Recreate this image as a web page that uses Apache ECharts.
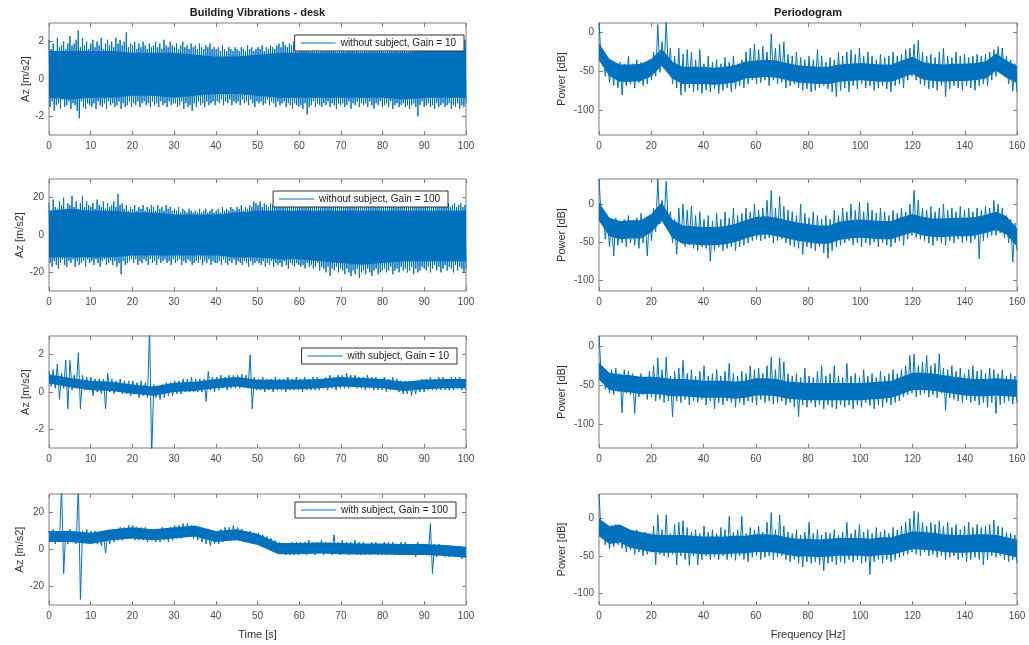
<!DOCTYPE html>
<html><head><meta charset="utf-8">
<script src="https://cdn.jsdelivr.net/npm/echarts@6/dist/echarts.min.js"></script>
<style>html,body{margin:0;padding:0;background:#fff}#c{width:1029px;height:645px}</style>
</head><body><div id="c"></div>
<script>
// ---------------- data ----------------
const TIME_MAX = 100, FREQ_MAX = 160;
const titleLeft = 'Building Vibrations - desk';
const titleRight = 'Periodogram';
const yNameAccel = 'Az [m/s2]';
const yNamePower = 'Power [dB]';
const xNameTime = 'Time [s]';
const xNameFreq = 'Frequency [Hz]';
const legendNames = ['without subject, Gain = 10', 'without subject, Gain = 100', 'with subject, Gain = 10', 'with subject, Gain = 100'];
const ticksAccLow = [-2, 0, 2];
const ticksAccHigh = [-20, 0, 20];
const ticksPower = [-100, -50, 0];

// time signals (alternating local maxima / minima)
const accel1 = [
2.1,-1.5,1.6,-1.2,1.9,-1.7,1.5,-1.4,2.2,-1.3,1.7,-1.6,1.8,-1.1,2.0,-1.5,1.6,-1.4,1.9,-1.2,
2.3,-1.6,1.8,-1.3,1.9,-1.4,2.1,-1.7,2.6,-2.1,1.7,-1.2,2.2,-1.5,1.8,-1.6,2.0,-1.3,1.6,-1.4,
1.9,-1.5,2.1,-1.3,1.7,-1.6,2.0,-1.2,1.8,-1.4,2.2,-1.5,1.6,-1.3,1.9,-1.6,2.1,-1.2,1.8,-1.4,
2.0,-1.3,1.7,-1.5,2.2,-1.4,1.9,-1.2,2.1,-1.6,1.8,-1.3,2.0,-1.5,2.5,-1.4,1.7,-1.2,1.9,-1.5,
1.8,-1.3,2.0,-1.4,1.6,-1.2,1.9,-1.5,1.7,-1.3,2.0,-1.2,1.8,-1.4,1.6,-1.3,1.9,-1.5,1.7,-1.2,
1.8,-1.4,2.0,-1.3,1.7,-1.5,1.9,-1.2,1.6,-1.4,2.1,-1.3,1.8,-1.5,1.7,-1.2,2.0,-1.4,1.8,-1.3,
1.7,-1.3,1.9,-1.5,1.6,-1.4,1.8,-1.2,2.0,-1.6,1.7,-1.3,1.8,-1.5,1.6,-1.4,1.9,-1.7,1.7,-1.3,
1.8,-1.5,1.6,-1.2,1.9,-1.4,1.7,-1.3,1.6,-1.5,1.8,-1.2,1.7,-1.4,1.9,-1.3,1.6,-1.2,1.7,-1.4,
1.6,-1.2,1.7,-1.3,1.5,-1.1,1.8,-1.4,1.6,-1.2,1.5,-1.3,1.7,-1.1,1.6,-1.4,1.5,-1.2,1.7,-1.3,
1.6,-1.2,1.5,-1.4,1.7,-1.1,1.6,-1.3,1.5,-1.2,1.8,-1.4,1.6,-1.1,1.7,-1.3,1.5,-1.5,1.6,-1.2,
1.7,-1.3,1.6,-1.2,1.8,-1.4,1.5,-1.3,1.7,-1.1,1.6,-1.4,1.8,-1.2,1.7,-1.3,1.6,-1.5,1.8,-1.2,
1.9,-1.4,1.7,-1.3,2.0,-1.2,1.8,-1.5,1.7,-1.3,1.9,-1.4,1.8,-1.6,2.0,-1.3,1.7,-1.4,1.9,-1.5,
1.8,-1.4,2.0,-1.6,1.7,-1.3,1.9,-1.9,1.8,-1.5,1.7,-1.4,2.0,-1.2,1.8,-1.5,1.9,-1.3,1.7,-1.4,
1.8,-1.5,1.9,-1.3,1.7,-1.4,2.0,-1.2,1.8,-1.5,1.7,-1.3,1.9,-1.4,1.8,-1.6,1.7,-1.3,1.9,-1.4,
1.8,-1.3,1.7,-1.5,1.9,-1.4,1.8,-1.2,1.7,-1.6,2.0,-1.3,1.8,-1.4,1.7,-1.2,1.9,-1.5,1.8,-1.3,
1.7,-1.4,1.9,-1.3,1.8,-1.5,1.7,-1.2,1.9,-1.4,1.8,-1.6,1.7,-1.3,2.0,-1.4,1.8,-1.2,1.7,-1.5,
1.9,-1.4,1.8,-1.3,1.7,-1.5,1.9,-1.2,1.8,-1.6,1.7,-1.4,2.0,-1.3,1.8,-1.5,1.9,-1.4,1.7,-1.3,
1.8,-1.5,1.9,-1.4,1.7,-1.6,1.8,-1.4,2.0,-1.3,1.8,-1.5,1.9,-2.0,1.7,-1.4,2.0,-1.2,1.8,-1.5,
1.9,-1.4,2.0,-1.3,1.8,-1.5,2.1,-1.4,1.9,-1.6,2.0,-1.3,1.8,-1.5,2.1,-1.4,1.9,-1.3,2.2,-1.5,
2.0,-1.4,2.3,-1.3,2.1,-1.6,1.9,-1.4,2.4,-1.5,2.0,-1.3,2.2,-1.6,2.1,-1.4,2.3,-1.5,2.1,-1.3
];
const accel1CoreHi = [1.5,1.5,1.5,1.5,1.4,1.4,1.4,1.3,1.2,1.2,1.3,1.4,1.4,1.4,1.4,1.4,1.4,1.4,1.5,1.6,1.6];
const accel1CoreLo = [-1.0,-1.1,-1.0,-1.0,-0.9,-0.9,-1.0,-0.9,-0.8,-0.8,-0.9,-1.0,-1.0,-1.0,-1.0,-1.0,-1.0,-1.1,-1.0,-1.0,-1.0];

const accel2 = [
17,-15,13,-17,19,-14,15,-16,14,-18,18,-15,16,-13,20,-16,14,-17,17,-14,
16,-15,21,-13,15,-17,18,-14,14,-16,17,-15,21,-14,15,-17,18,-13,16,-15,
15,-14,17,-16,14,-13,19,-15,16,-17,15,-14,18,-13,14,-16,17,-15,15,-14,
16,-16,18,-14,15,-17,22,-15,16,-21,17,-14,14,-16,16,-15,13,-14,15,-13,
14,-15,16,-13,13,-16,15,-14,14,-15,16,-13,13,-14,15,-16,14,-13,16,-15,
15,-14,13,-16,16,-13,14,-15,15,-14,13,-13,16,-15,14,-14,15,-16,13,-13,
14,-15,13,-14,15,-13,12,-16,14,-14,13,-15,12,-13,14,-14,13,-16,12,-15,
13,-14,12,-15,14,-13,12,-16,13,-14,14,-15,12,-13,13,-16,14,-14,12,-15,
13,-15,14,-14,12,-16,15,-13,13,-15,14,-16,13,-14,15,-15,14,-13,13,-16,
15,-14,14,-15,16,-16,13,-14,15,-15,14,-17,16,-14,15,-16,18,-15,17,-14,
16,-15,18,-16,15,-14,17,-17,16,-15,15,-16,17,-14,16,-17,15,-15,17,-16,
16,-15,15,-17,17,-14,16,-16,15,-18,17,-15,16,-16,15,-17,17,-15,16,-16,
15,-17,17,-16,16,-18,15,-15,17,-17,16,-16,15,-18,17,-17,16,-15,15,-19,
16,-17,17,-18,15,-20,16,-17,17,-22,15,-18,16,-19,17,-17,15,-20,16,-18,
17,-19,16,-21,15,-18,17,-20,16,-22,15,-19,17,-21,16,-18,15,-23,17,-20,
16,-19,15,-21,17,-18,16,-20,15,-22,17,-19,16,-18,15,-21,17,-20,16,-19,
15,-18,17,-20,16,-19,15,-17,17,-21,16,-19,15,-18,17,-20,16,-17,15,-19,
16,-18,17,-20,15,-19,16,-17,17,-21,15,-18,16,-20,17,-19,15,-17,16,-18,
17,-19,16,-17,15,-20,17,-18,16,-16,15,-19,17,-17,16,-20,15,-18,17,-16,
16,-19,17,-17,15,-18,16,-20,17,-16,15,-19,16,-17,17,-18,15,-20,16,-18
];
const accel2CoreHi = [13,14,13,13,12,12,11,11,11,12,13,13,13,13,13,13,13,13,13,13,13];
const accel2CoreLo = [-12,-12,-12,-12,-11,-11,-11,-11,-11,-12,-12,-13,-13,-14,-15,-16,-15,-14,-14,-14,-14];

const accel3 = [
1.1,0.3,1.2,0.2,1.5,-0.4,1.0,0.2,1.7,-0.9,1.7,0.1,0.9,0.2,2.1,-0.9,0.9,0.1,0.8,0.2,
0.8,-0.2,0.7,0.0,0.7,-0.1,0.7,-0.9,1.0,0.0,0.7,-0.1,0.6,0.0,0.7,-0.1,0.6,-0.1,0.6,-0.2,
0.6,-0.1,0.5,-0.3,0.6,-0.2,0.5,-0.3,3.5,-3.5,0.4,-0.3,0.3,-0.4,0.4,-0.3,0.5,-0.2,0.5,-0.2,
0.6,-0.1,0.6,-0.1,0.7,0.0,0.7,0.0,0.8,0.0,0.7,0.0,0.7,0.0,0.7,-0.5,1.1,0.1,0.8,0.0,
0.8,0.1,0.9,0.2,0.8,0.1,0.9,0.2,0.9,0.2,0.9,0.2,0.95,0.25,0.9,0.2,2.0,-0.9,0.8,0.1,
0.7,0.1,0.8,0.0,0.7,0.1,0.7,0.0,0.8,0.1,0.7,0.1,0.7,0.0,0.8,0.1,0.7,0.1,0.8,0.1,
0.7,0.0,0.8,0.1,0.7,0.1,0.8,0.1,0.8,0.1,0.7,0.2,0.8,0.1,0.9,0.2,0.8,0.1,0.9,0.2,
0.9,0.2,1.0,0.2,0.9,0.3,0.9,0.2,0.8,0.2,0.8,0.1,0.9,0.2,0.8,0.1,0.8,0.1,0.7,0.1,
0.8,0.0,0.7,0.1,0.8,0.1,0.7,0.0,0.6,-0.1,0.6,-0.1,0.6,-0.2,0.5,-0.1,0.6,0.0,0.7,0.0,
0.7,0.1,0.8,0.1,0.7,0.1,0.8,0.1,0.8,0.1,0.7,0.1,0.8,0.1,0.8,0.2,0.8,0.1,0.7,0.1
];
const accel3CoreHi = [0.95,0.75,0.6,0.55,0.4,0.3,0.5,0.55,0.7,0.8,0.65,0.65,0.65,0.7,0.8,0.75,0.7,0.55,0.65,0.7,0.7];
const accel3CoreLo = [0.45,0.25,0.1,0.05,-0.1,-0.2,0.0,0.05,0.2,0.3,0.15,0.15,0.15,0.2,0.3,0.25,0.2,0.05,0.15,0.2,0.2];

const accel4 = [
10,4,11,3,10,4,35,-13,10,3,11,4,10,3,35,-27,10,4,11,4,
10,4,10,3,9,2,8,-2,9,3,10,4,11,5,12,5,12,6,13,6,
13,5,12,5,12,5,12,4,11,5,11,4,11,4,12,5,11,4,12,5,
13,6,13,6,14,7,14,7,13,6,12,5,11,4,10,3,9,2,9,3,
10,3,11,4,12,5,12,6,13,5,12,5,11,4,10,4,10,3,9,3,
9,2,8,1,7,0,6,-1,5,-1,4,-2,3,-3,3,-3,4,-3,4,-3,
4,-2,4,-3,5,-2,4,-3,4,-2,5,-3,4,-2,4,-3,8,-2,4,-3,
5,-2,4,-3,4,-2,5,-3,4,-3,4,-3,3,-3,4,-2,4,-3,3,-3,
4,-3,4,-2,4,-3,3,-3,4,-2,4,-3,3,-3,3,-4,4,-3,3,-3,
3,-3,14,-13,3,-4,3,-3,2,-4,2,-4,2,-4,1,-4,2,-5,1,-4
];
const accel4CoreHi = [10,10,9,11,12,11,12,13,10,11,8.5,3.5,3.5,3.8,3.5,3.3,3.3,3,3,2.5,1.5];
const accel4CoreLo = [4,4,3,5,6,5,6,7,4,5,2.5,-2.5,-2.5,-2.2,-2.5,-2.7,-2.7,-3,-3,-3.5,-4.5];

// periodograms (alternating local maxima / minima, dB)
const power1 = [
15,-36,-25,-56,-35,-64,-38,-68,-40,-71,-38,-80,-40,-68,-30,-66,-40,-71,-35,-64,
-38,-68,-40,-66,-35,-61,-25,-56,10,-51,-12,-46,15,-51,-20,-66,-30,-71,-20,-80,
-28,-76,-22,-71,-25,-76,-35,-74,-22,-78,-40,-74,-30,-76,-38,-72,-35,-78,-40,-74,
-32,-71,-38,-76,-30,-72,-40,-68,-35,-71,-25,-66,-20,-61,-15,-66,-22,-64,-18,-61,
-25,-68,-2,-61,-20,-66,-15,-64,-12,-71,-28,-68,-30,-66,-25,-71,-32,-74,-35,-72,
-30,-76,-35,-74,-22,-71,-30,-68,-38,-72,-32,-76,-35,-82,-25,-74,-30,-71,-25,-76,
-22,-68,-28,-72,-20,-66,-30,-71,-25,-68,-30,-74,-35,-71,-28,-68,-32,-72,-30,-76,
-25,-68,-30,-66,-28,-71,-22,-61,-20,-56,-15,-61,-10,-66,-25,-68,-30,-72,-28,-71,
-32,-74,-25,-68,-20,-82,-30,-72,-32,-68,-25,-71,-30,-74,-28,-68,-32,-71,-30,-74,
-28,-68,-30,-66,-28,-68,-25,-61,-22,-56,-18,-51,-20,-56,-30,-66,-35,-75,-40,-76
];
const power1CoreHi = [-14,-34,-41,-41,-40,-34,-21,-37,-44,-44,-44,-45,-44,-42,-37,-36,-35,-36,-39,-42,-43,-44,-44,-41,-40,-39,-40,-41,-41,-36,-31,-38,-40,-41,-40,-40,-39,-37,-27,-36,-43];
const power1CoreLo = [-36,-56,-63,-63,-62,-56,-43,-59,-66,-66,-66,-67,-66,-64,-59,-58,-57,-58,-61,-64,-65,-66,-66,-63,-62,-61,-62,-63,-63,-58,-53,-60,-62,-63,-62,-62,-61,-59,-49,-58,-65];

const power2 = [
33,-16,-10,-46,-20,-56,-22,-68,-18,-54,-22,-51,-20,-56,-15,-51,-22,-54,-18,-58,
-12,-51,-20,-68,-15,-48,-5,-36,33,-26,5,-21,30,-26,-10,-51,-20,-66,-5,-51,
0,-56,-8,-54,-3,-58,-15,-61,-10,-56,-20,-58,-15,-75,-22,-61,-12,-56,-20,-61,
-10,-58,-18,-56,-5,-61,-15,-56,-12,-54,-5,-51,-10,-48,0,-46,-8,-48,-5,-46,
5,-44,18,-51,-5,-48,10,-46,-3,-51,-8,-54,-10,-56,-15,-58,0,-66,-12,-56,
-18,-58,-10,-61,-15,-56,-20,-64,-15,-71,-20,-61,-8,-56,-15,-54,-5,-51,-10,-48,
0,-54,-8,-51,3,-56,-10,-51,2,-54,-8,-50,-12,-56,-5,-51,-10,-54,-15,-56,
-8,-51,-12,-48,-5,-54,-10,-46,0,-41,18,-44,5,-46,-5,-48,-8,-51,-3,-54,
-10,-48,-5,-51,0,-54,-8,-48,-5,-51,-10,-46,-3,-51,-8,-48,-5,-51,-10,-46,
-5,-72,-8,-48,-3,-44,-5,-41,5,-41,0,-38,-5,-44,-15,-51,-20,-76,-25,-61
];
const power2CoreHi = [2,-18,-22,-21,-21,-13,2,-20,-28,-29,-30,-30,-29,-26,-21,-17,-16,-18,-21,-24,-26,-28,-28,-23,-21,-20,-21,-22,-22,-17,-13,-17,-19,-19,-18,-18,-17,-14,-10,-16,-32];
const power2CoreLo = [-22,-42,-46,-45,-45,-37,-22,-44,-52,-53,-54,-54,-53,-50,-45,-41,-40,-42,-45,-48,-50,-52,-52,-47,-45,-44,-45,-46,-46,-41,-37,-41,-43,-43,-42,-42,-41,-38,-34,-40,-56];

const power3 = [
15,-35,-30,-55,-35,-60,-30,-62,-28,-58,-35,-85,-30,-60,-32,-62,-35,-86,-38,-65,
-35,-62,-40,-68,-32,-65,-25,-70,-15,-68,-30,-72,-14,-70,-38,-90,-32,-70,-28,-72,
-18,-68,-35,-75,-30,-70,-38,-72,-32,-68,-25,-75,-38,-70,-35,-80,-30,-72,-38,-75,
-32,-70,-22,-72,-35,-78,-38,-72,-32,-75,-35,-70,-25,-72,-30,-75,-28,-68,-35,-72,
-25,-70,-14,-74,-30,-72,-15,-70,-20,-75,-35,-72,-38,-78,-35,-90,-40,-75,-28,-78,
-38,-72,-40,-78,-32,-75,-25,-80,-38,-75,-35,-78,-25,-80,-38,-75,-40,-78,-22,-75,
-38,-80,-35,-75,-40,-78,-30,-72,-38,-76,-35,-80,-40,-75,-32,-78,-38,-72,-35,-75,
-30,-72,-35,-70,-30,-65,-25,-62,-12,-60,-10,-65,-25,-62,-20,-60,-12,-65,-25,-62,
-22,-66,-10,-60,-28,-82,-30,-66,-25,-68,-32,-70,-28,-72,-35,-68,-30,-72,-25,-70,
-32,-75,-30,-72,-35,-78,-28,-72,-30,-86,-35,-75,-30,-72,-38,-70,-35,-74,-38,-72
];
const power3CoreHi = [-21,-34,-36,-37,-39,-39,-40,-42,-42,-43,-44,-44,-44,-45,-44,-41,-41,-42,-45,-46,-47,-47,-47,-47,-47,-47,-46,-45,-44,-39,-34,-34,-35,-37,-39,-41,-42,-42,-41,-42,-43];
const power3CoreLo = [-43,-56,-58,-59,-61,-61,-62,-64,-64,-65,-66,-66,-66,-67,-66,-63,-63,-64,-67,-68,-69,-69,-69,-69,-69,-69,-68,-67,-66,-61,-56,-56,-57,-59,-61,-63,-64,-64,-63,-64,-65];

const power4 = [
33,-20,-10,-35,-15,-40,-10,-38,-8,-35,-10,-40,-15,-45,-18,-42,-20,-48,-15,-45,
-22,-50,-18,-48,-20,-45,-10,-62,5,-48,-15,-50,5,-52,-20,-48,-8,-62,-5,-50,
-3,-55,-12,-63,-18,-50,-15,-62,-20,-55,-10,-50,-18,-55,-15,-52,-20,-55,-12,-50,
-15,-55,3,-52,-18,-56,-15,-50,3,-55,-20,-58,-12,-52,-15,-50,-10,-55,-18,-52,
-5,-50,8,-55,-15,-52,5,-50,-10,-55,-18,-58,-20,-55,-15,-60,-22,-65,-18,-58,
-5,-60,-20,-58,-15,-62,-22,-70,-18,-60,-20,-58,-15,-62,-22,-58,-18,-60,-5,-55,
-20,-58,-15,-55,-8,-60,-18,-58,-15,-75,-20,-58,-12,-55,-18,-60,-15,-55,-20,-58,
-12,-55,-15,-52,-10,-50,-5,-48,0,-45,10,-48,8,-50,-5,-45,-10,-50,-5,-48,
-8,-52,-3,-50,-10,-55,-5,-52,-12,-50,-8,-55,-15,-52,-10,-58,-5,-55,-12,-52,
-8,-55,-12,-62,-10,-55,-8,-50,-2,-52,-10,-50,-12,-55,-18,-58,-20,-55,-22,-60
];
const power4CoreHi = [0,-10,-8,-15,-18,-21,-22,-22,-22,-23,-24,-24,-24,-23,-23,-21,-21,-22,-25,-27,-27,-28,-27,-26,-26,-26,-27,-25,-25,-21,-17,-18,-19,-21,-22,-22,-21,-21,-22,-25,-28];
const power4CoreLo = [-24,-34,-32,-39,-42,-45,-46,-46,-46,-47,-48,-48,-48,-47,-47,-45,-45,-46,-49,-51,-51,-52,-51,-50,-50,-50,-51,-49,-49,-45,-41,-42,-43,-45,-46,-46,-45,-45,-46,-49,-52];

// ---------------- layout / style ----------------
const COLOR = '#0072BD';
const FONT = '"Liberation Sans", Arial, Helvetica, sans-serif';
const AXIS_GREY = '#7d7d7d';
const LABEL_GREY = '#4a4a4a';
const colLeft = [49, 599], colWidth = [417, 418];
const rowTop = [23, 179, 336, 494], rowHeight = [112, 112, 112, 111];

const panels = [
  {sig: accel1, hi: accel1CoreHi, lo: accel1CoreLo, xMax: TIME_MAX, xInt: 10, yMin: -3, yMax: 3, ticks: ticksAccLow, yName: yNameAccel, gap: 18, legend: 0, legendRight: 565, legendTop: 35},
  {sig: accel2, hi: accel2CoreHi, lo: accel2CoreLo, xMax: TIME_MAX, xInt: 10, yMin: -30, yMax: 30, ticks: ticksAccHigh, yName: yNameAccel, gap: 20, legend: 1, legendRight: 581, legendTop: 191},
  {sig: accel3, hi: accel3CoreHi, lo: accel3CoreLo, xMax: TIME_MAX, xInt: 10, yMin: -3, yMax: 3, ticks: ticksAccLow, yName: yNameAccel, gap: 18, legend: 2, legendRight: 572, legendTop: 348},
  {sig: accel4, hi: accel4CoreHi, lo: accel4CoreLo, xMax: TIME_MAX, xInt: 10, yMin: -30, yMax: 30, ticks: ticksAccHigh, yName: yNameAccel, gap: 20, legend: 3, legendRight: 573, legendTop: 502, xName: xNameTime},
  {sig: power1, hi: power1CoreHi, lo: power1CoreLo, xMax: FREQ_MAX, xInt: 20, yMin: -131, yMax: 12, ticks: ticksPower, yName: yNamePower, gap: 32},
  {sig: power2, hi: power2CoreHi, lo: power2CoreLo, xMax: FREQ_MAX, xInt: 20, yMin: -114, yMax: 33, ticks: ticksPower, yName: yNamePower, gap: 32},
  {sig: power3, hi: power3CoreHi, lo: power3CoreLo, xMax: FREQ_MAX, xInt: 20, yMin: -130, yMax: 13, ticks: ticksPower, yName: yNamePower, gap: 32},
  {sig: power4, hi: power4CoreHi, lo: power4CoreLo, xMax: FREQ_MAX, xInt: 20, yMin: -116, yMax: 33, ticks: ticksPower, yName: yNamePower, gap: 32, xName: xNameFreq}
];

const grid = [], xAxis = [], yAxis = [], series = [], legend = [];
panels.forEach((p, i) => {
  const col = i < 4 ? 0 : 1, row = i % 4;
  grid.push({left: colLeft[col], top: rowTop[row], width: colWidth[col], height: rowHeight[row],
    show: true, borderColor: AXIS_GREY, borderWidth: 1, backgroundColor: '#fff'});
  const tickStyle = {inside: true, length: 4, lineStyle: {color: AXIS_GREY, width: 1}};
  const noLine = {show: false, onZero: false};
  xAxis.push({gridIndex: i, type: 'value', min: 0, max: p.xMax, interval: p.xInt, position: 'bottom',
    axisLine: noLine, axisTick: tickStyle, splitLine: {show: false},
    axisLabel: {color: LABEL_GREY, fontSize: 10, fontFamily: FONT, margin: 6},
    name: p.xName || '', nameLocation: 'middle', nameGap: 24,
    nameTextStyle: {color: '#333', fontSize: 11, fontFamily: FONT}});
  xAxis.push({gridIndex: i, type: 'value', min: 0, max: p.xMax, interval: p.xInt, position: 'top',
    axisLine: noLine, axisTick: tickStyle, splitLine: {show: false}, axisLabel: {show: false}});
  yAxis.push({gridIndex: i, type: 'value', min: p.yMin, max: p.yMax, position: 'left',
    axisLine: noLine, splitLine: {show: false},
    axisTick: Object.assign({customValues: p.ticks}, tickStyle),
    axisLabel: {customValues: p.ticks, color: LABEL_GREY, fontSize: 10, fontFamily: FONT, margin: 5},
    name: p.yName, nameLocation: 'middle', nameGap: p.gap,
    nameTextStyle: {color: '#333', fontSize: 11, fontFamily: FONT}});
  yAxis.push({gridIndex: i, type: 'value', min: p.yMin, max: p.yMax, position: 'right',
    axisLine: noLine, splitLine: {show: false},
    axisTick: Object.assign({customValues: p.ticks}, tickStyle),
    axisLabel: {show: false}});

  // dense core of the trace: band between core lo / hi, drawn as one polygon through the axes
  const cStep = p.xMax / (p.hi.length - 1);
  const band = p.hi.map((v, k) => [k * cStep, v, p.lo[k]]);
  series.push({type: 'custom', xAxisIndex: 2 * i, yAxisIndex: 2 * i, silent: true, z: 2, clip: true,
    data: band, encode: {x: 0, y: [1, 2]},
    renderItem: (params, api) => {
      if (params.dataIndex !== 0) return null;
      const pts = [];
      band.forEach(b => pts.push(api.coord([b[0], b[1]])));
      for (let k = band.length - 1; k >= 0; k--) pts.push(api.coord([band[k][0], band[k][2]]));
      return {type: 'polygon', shape: {points: pts}, style: {fill: COLOR}};
    }});
  const sStep = p.xMax / (p.sig.length - 1);
  series.push({type: 'line', name: p.legend !== undefined ? legendNames[p.legend] : 'power' + i,
    xAxisIndex: 2 * i, yAxisIndex: 2 * i,
    data: p.sig.map((v, k) => [k * sStep, v]), symbol: 'none', silent: true, clip: true,
    color: COLOR, lineStyle: {color: COLOR, width: 1}, z: 3});
  if (p.legend !== undefined) {
    legend.push({data: [legendNames[p.legend]], right: p.legendRight, top: p.legendTop,
      orient: 'horizontal', selectedMode: false, backgroundColor: '#fff',
      borderColor: '#333', borderWidth: 1, borderRadius: 0, padding: [3, 8, 3, 6],
      icon: 'rect', itemWidth: 35, itemHeight: 1, itemGap: 0, itemTextGap: 4,
      textStyle: {fontSize: 10, color: '#222', fontFamily: FONT}, z: 10});
  }
});

const option = {
  animation: false,
  textStyle: {fontFamily: FONT},
  grid, xAxis, yAxis, series, legend,
  graphic: [
    {type: 'text', x: 257.5, y: 13, z: 10, style: {text: titleLeft, font: 'bold 11px ' + FONT, fill: '#1a1a1a', align: 'center', verticalAlign: 'middle'}},
    {type: 'text', x: 808, y: 13, z: 10, style: {text: titleRight, font: 'bold 11px ' + FONT, fill: '#1a1a1a', align: 'center', verticalAlign: 'middle'}}
  ]
};
const chart = echarts.init(document.getElementById('c'));
chart.setOption(option);
</script>
</body></html>
